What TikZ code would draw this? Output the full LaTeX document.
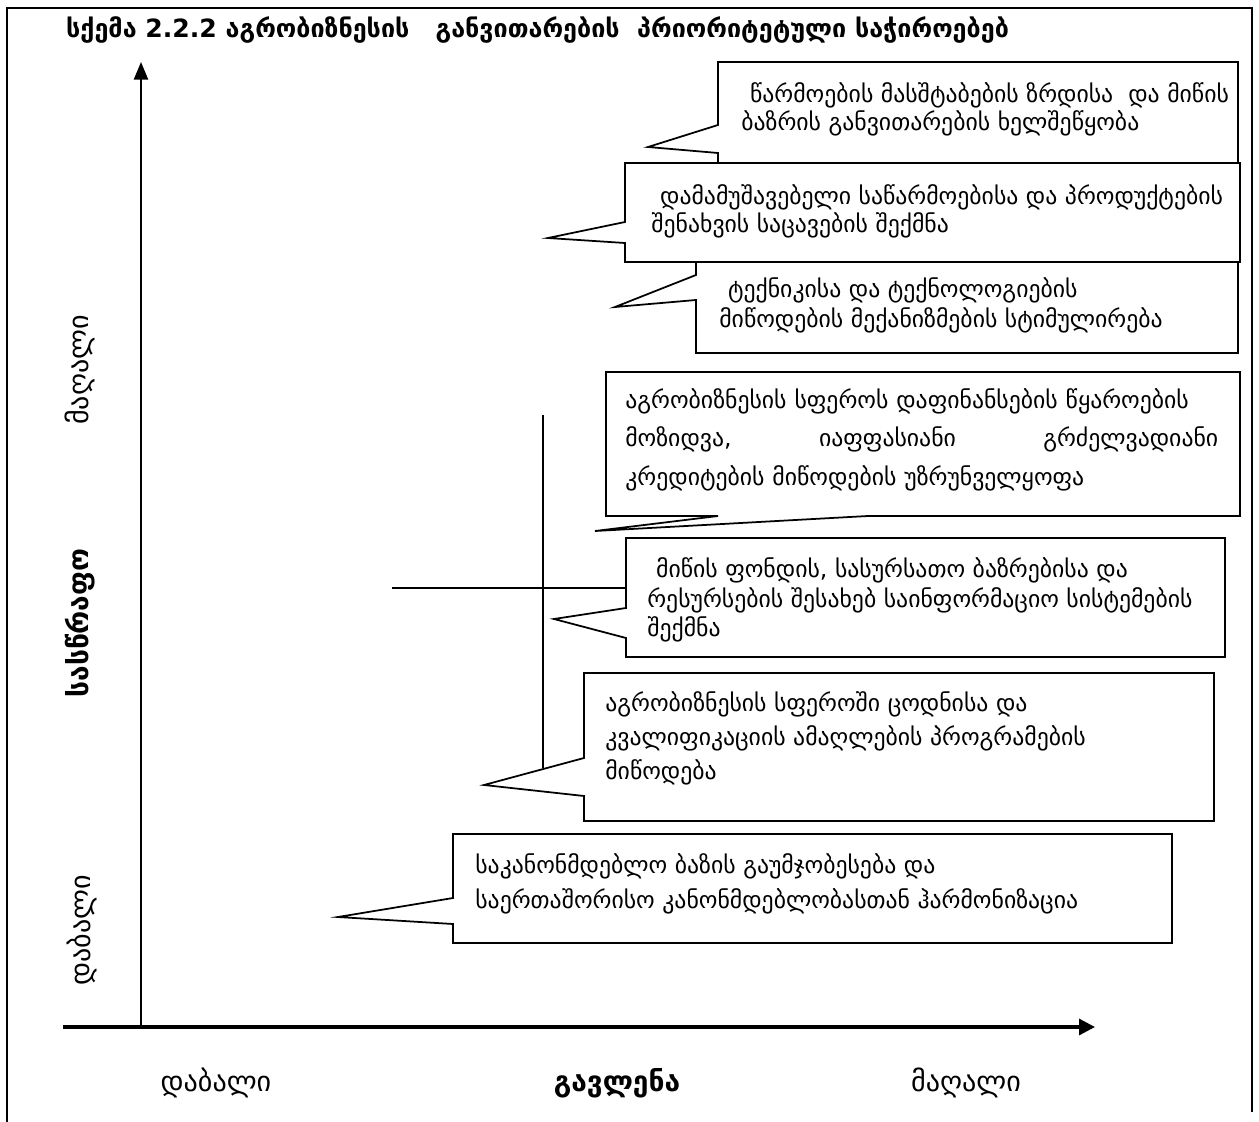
\documentclass[tikz,border=0pt]{standalone}
\usepackage{fontspec}
\setmainfont{DejaVu Sans}
\usetikzlibrary{arrows.meta}

\begin{document}
\begin{tikzpicture}[x=0.02cm,y=-0.02cm,
  callout/.style={draw,fill=white,line width=1pt},
  boxtext/.style={anchor=north west,align=left,inner sep=0pt,font=\fontsize{13.5}{#1}\selectfont},
  axislabel/.style={font=\fontsize{16}{18}\selectfont}]
\useasboundingbox (0,0) rectangle (1259,1122);
\draw [line width=0.8pt] (7,1122) -- (7,8) -- (1252,8) -- (1252,1112);

\node (title) [anchor=west,font=\bfseries\fontsize{14.3}{16}\selectfont] at (60,30) {სქემა 2.2.2 აგრობიზნესის~~~განვითარების~~პრიორიტეტული საჭიროებებ};

\coordinate (yfoot) at (141,1027);
\coordinate (ytop) at (141,62);
\coordinate (xstart) at (63,1027);
\coordinate (xend) at (1095,1027);
\draw [-{Triangle[length=10pt,width=8pt]}, line width=1.2pt] (yfoot) -- (ytop);
\draw [-{Triangle[length=9pt,width=9pt]}, line width=1.8pt] (xstart) -- (xend);

\node (yhigh) [axislabel,rotate=90] at (80,370) {მაღალი};
\node (ymid) [axislabel,rotate=90] at (80,623) {\bfseries სასწრაფო};
\node (ylow) [axislabel,rotate=90] at (82,930) {დაბალი};
\node (xlow) [axislabel] at (216,1083) {დაბალი};
\node (xmid) [axislabel] at (617,1083) {\bfseries გავლენა};
\node (xhigh) [axislabel] at (966,1083) {მაღალი};

\coordinate (vtop) at (543,415);
\coordinate (vbot) at (543,768);
\coordinate (hleft) at (392,588);
\coordinate (hright) at (626,588);
\draw [line width=0.6pt] (vtop) -- (vbot);
\draw [line width=1pt] (hleft) -- (hright);

\draw [callout] (718,125) -- (718,62) -- (1238,62) -- (1238,163) -- (718,163) -- (718,153) -- (648,147) -- cycle;
\node (prod) [boxtext=16pt] at (741,82) {\hspace{5pt}წარმოების მასშტაბების ზრდისა~~და მიწის\\ბაზრის განვითარების ხელშეწყობა};

\draw [callout] (625,222) -- (625,163) -- (1240,163) -- (1240,262) -- (625,262) -- (625,243) -- (548,238) -- cycle;
\node (proc) [boxtext=16pt] at (651,184) {\hspace{5pt}დამამუშავებელი საწარმოებისა და პროდუქტების\\შენახვის საცავების შექმნა};

\draw [callout] (696,275) -- (696,262) -- (1238,262) -- (1238,353) -- (696,353) -- (696,300) -- (615,307) -- cycle;
\node (tech) [boxtext=17pt] at (719,277) {\hspace{5pt}ტექნიკისა და ტექნოლოგიების\\მიწოდების მექანიზმების სტიმულირება};

\draw [callout] (606,372) -- (1240,372) -- (1240,516) -- (868,516) -- (595,531) -- (718,516) -- (606,516) -- cycle;
\node (fin) [boxtext=22pt,text width=11.86cm] at (625,388) {აგრობიზნესის სფეროს დაფინანსების წყაროების\\მოზიდვა,\hfill იაფფასიანი\hfill გრძელვადიანი\\კრედიტების მიწოდების უზრუნველყოფა};

\draw [callout] (626,608) -- (626,538) -- (1225,538) -- (1225,657) -- (626,657) -- (626,638) -- (554,619) -- cycle;
\node (info) [boxtext=17pt] at (647,557) {\hspace{5pt}მიწის ფონდის, სასურსათო ბაზრებისა და\\რესურსების შესახებ საინფორმაციო სისტემების\\შექმნა};

\draw [callout] (584,758) -- (584,673) -- (1214,673) -- (1214,821) -- (584,821) -- (584,796) -- (484,785) -- cycle;
\node (know) [boxtext=19.5pt] at (605,691) {აგრობიზნესის სფეროში ცოდნისა და\\კვალიფიკაციის ამაღლების პროგრამების\\მიწოდება};

\draw [callout] (453,898) -- (453,834) -- (1172,834) -- (1172,943) -- (453,943) -- (453,924) -- (338,917) -- cycle;
\node (law) [boxtext=20pt] at (475,853) {საკანონმდებლო ბაზის გაუმჯობესება და\\საერთაშორისო კანონმდებლობასთან ჰარმონიზაცია};
\end{tikzpicture}
\end{document}
